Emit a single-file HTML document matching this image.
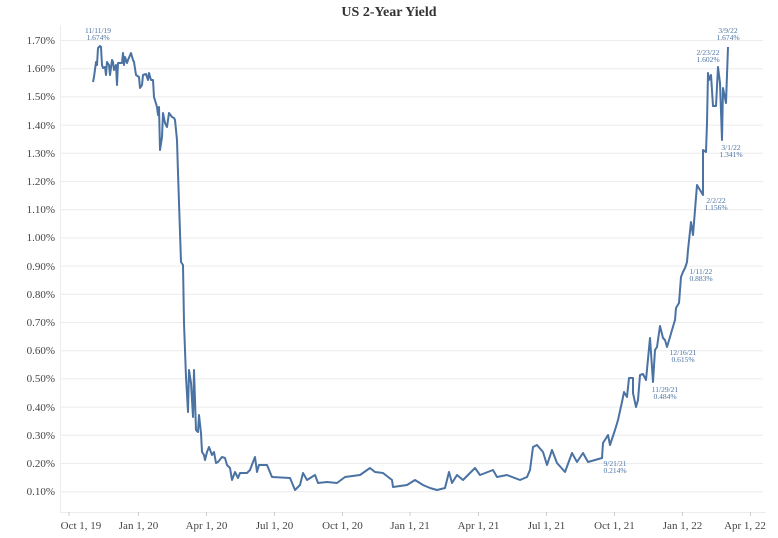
<!DOCTYPE html>
<html><head><meta charset="utf-8"><style>
html,body{margin:0;padding:0;background:#fff;}
svg{display:block;}
text{font-family:"Liberation Serif",serif;}
</style></head><body>
<svg width="778" height="538" viewBox="0 0 778 538" xmlns="http://www.w3.org/2000/svg">
<text x="389" y="16" text-anchor="middle" font-size="14" font-weight="bold" fill="#333">US 2-Year Yield</text>
<g stroke="#ececec" stroke-width="1">
<line x1="60" x2="763" y1="40.5" y2="40.5"/><line x1="60" x2="763" y1="68.7" y2="68.7"/><line x1="60" x2="763" y1="96.9" y2="96.9"/><line x1="60" x2="763" y1="125.1" y2="125.1"/><line x1="60" x2="763" y1="153.3" y2="153.3"/><line x1="60" x2="763" y1="181.5" y2="181.5"/><line x1="60" x2="763" y1="209.7" y2="209.7"/><line x1="60" x2="763" y1="237.9" y2="237.9"/><line x1="60" x2="763" y1="266.1" y2="266.1"/><line x1="60" x2="763" y1="294.3" y2="294.3"/><line x1="60" x2="763" y1="322.5" y2="322.5"/><line x1="60" x2="763" y1="350.7" y2="350.7"/><line x1="60" x2="763" y1="378.9" y2="378.9"/><line x1="60" x2="763" y1="407.1" y2="407.1"/><line x1="60" x2="763" y1="435.3" y2="435.3"/><line x1="60" x2="763" y1="463.5" y2="463.5"/><line x1="60" x2="763" y1="491.7" y2="491.7"/>
<line x1="60.5" x2="60.5" y1="25" y2="512"/>
<line x1="60" x2="766" y1="512.5" y2="512.5"/>
</g>
<g font-size="11" fill="#444" text-anchor="end">
<text x="55" y="44">1.70%</text><text x="55" y="72">1.60%</text><text x="55" y="100">1.50%</text><text x="55" y="129">1.40%</text><text x="55" y="157">1.30%</text><text x="55" y="185">1.20%</text><text x="55" y="213">1.10%</text><text x="55" y="241">1.00%</text><text x="55" y="270">0.90%</text><text x="55" y="298">0.80%</text><text x="55" y="326">0.70%</text><text x="55" y="354">0.60%</text><text x="55" y="382">0.50%</text><text x="55" y="411">0.40%</text><text x="55" y="439">0.30%</text><text x="55" y="467">0.20%</text><text x="55" y="495">0.10%</text>
</g>
<g stroke="#ccc" stroke-width="1">
<line x1="69" x2="69" y1="512" y2="516"/><line x1="138.5" x2="138.5" y1="512" y2="516"/><line x1="206.5" x2="206.5" y1="512" y2="516"/><line x1="274.5" x2="274.5" y1="512" y2="516"/><line x1="342.5" x2="342.5" y1="512" y2="516"/><line x1="410" x2="410" y1="512" y2="516"/><line x1="478.5" x2="478.5" y1="512" y2="516"/><line x1="546.5" x2="546.5" y1="512" y2="516"/><line x1="614.5" x2="614.5" y1="512" y2="516"/><line x1="682.5" x2="682.5" y1="512" y2="516"/><line x1="750.5" x2="750.5" y1="512" y2="516"/>
</g>
<g font-size="11" fill="#444" text-anchor="middle">
<text x="81" y="529">Oct 1, 19</text><text x="138.5" y="529">Jan 1, 20</text><text x="206.5" y="529">Apr 1, 20</text><text x="274.5" y="529">Jul 1, 20</text><text x="342.5" y="529">Oct 1, 20</text><text x="410" y="529">Jan 1, 21</text><text x="478.5" y="529">Apr 1, 21</text><text x="546.5" y="529">Jul 1, 21</text><text x="614.5" y="529">Oct 1, 21</text><text x="682.5" y="529">Jan 1, 22</text><text x="745" y="529">Apr 1, 22</text>
</g>
<polyline fill="none" stroke="#4a72a3" stroke-width="2" stroke-linejoin="round" points="93,82 94,77 96,62 97,65 98,48 100,46 101,47 102,65 103,68 105,67 106,75 107,62 109,65 110,75 112,60 113,62 114,70 116,65 117,85 118,63 122,63 123,53 124,65 125,57 127,63 128,60 131,53 133,60 134,62 136,75 139,77 140,88 142,85 143,75 146,74 148,80 149,73 151,80 153,80 154,97 157,107 158,115 159,107 160,150 162,137 163,113 165,123 167,127 169,113 172,117 174,118 175,120 177,140 178,173 181,262 183,265 184,323 186,377 188,412 189,370 191,383 193,417 194,370 196,430 198,432 199,415 201,433 202,452 204,455 205,460 207,452 209,447 212,455 214,452 216,463 218,462 222,457 225,458 227,465 230,468 232,480 235,472 238,478 240,473 247,473 250,470 253,462 255,457 257,472 259,465 265,465 267,465 272,477 290,478 295,490 300,485 303,473 307,480 315,475 318,483 327,482 337,483 345,477 360,475 370,468 375,472 383,473 392,480 393,487 407,485 415,480 423,485 430,488 437,490 445,488 449,472 452,483 457,475 463,480 475,468 480,475 493,470 497,477 507,475 520,480 527,477 530,470 533,447 537,445 543,452 547,465 552,450 557,463 565,472 572,453 577,462 583,453 588,462 602,458 603,443 608,435 610,445 615,430 618,420 622,402 624,392 627,397 629,378 633,378 633,393 636,407 638,400 640,375 643,374 646,380 650,338 653,382 655,350 657,347 660,326 663,338 665,340 667,347 670,337 672,330 675,320 676,308 679,303 681,277 683,272 685,268 687,262 688,250 691,222 693,235 697,185 700,190 703,195 703,150 706,152 707,123 708,73 709,80 711,75 713,106 716,106 718,67 720,83 722,140 723,88 726,103 728,47"/>
<g font-size="7.5" fill="#4a72a3" text-anchor="middle">
<text x="98" y="33">11/11/19</text><text x="98" y="40">1.674%</text>
<text x="728" y="33">3/9/22</text><text x="728" y="40">1.674%</text>
<text x="708" y="55">2/23/22</text><text x="708" y="62">1.602%</text>
<text x="731" y="150">3/1/22</text><text x="731" y="157">1.341%</text>
<text x="716" y="203">2/2/22</text><text x="716" y="210">1.156%</text>
<text x="701" y="274">1/11/22</text><text x="701" y="281">0.883%</text>
<text x="683" y="355">12/16/21</text><text x="683" y="362">0.615%</text>
<text x="665" y="392">11/29/21</text><text x="665" y="399">0.484%</text>
<text x="615" y="466">9/21/21</text><text x="615" y="473">0.214%</text>
</g>
</svg>
</body></html>
